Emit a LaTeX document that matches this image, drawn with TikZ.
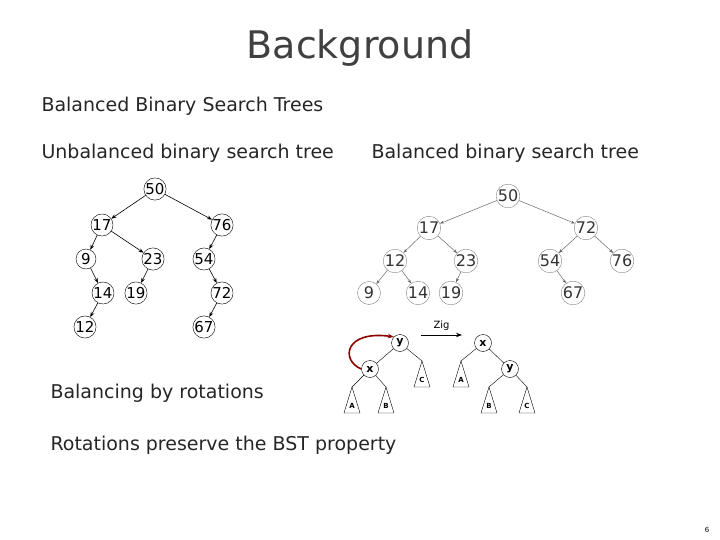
\documentclass[tikz,border=0pt]{standalone}
\usepackage{fontspec}
\setmainfont{DejaVu Sans}
\usetikzlibrary{arrows.meta,calc}
\tikzset{
  >=Stealth,
  nd/.style={circle,draw,inner sep=0pt,minimum size=20pt,font=\fontsize{15}{15}\selectfont},
  gnd/.style={circle,draw=gray,inner sep=0pt,minimum size=23pt,font=\fontsize{16}{16}\selectfont,text=black!80},
  ed/.style={->,>={Stealth[length=5pt]},line width=0.6pt},
  ged/.style={->,>={Stealth[length=4pt]},gray!80!black,line width=0.5pt},
  rn/.style={circle,draw,inner sep=0pt,minimum size=17pt,font=\bfseries\fontsize{11}{11}\selectfont},
  txt/.style={anchor=west,font=\fontsize{19}{19}\selectfont,text=black!85}
}
\newcommand{\subtree}[3]{% apex, name, label
  \draw (#1) -- ++(-8,26) -- ++(16,0) -- cycle;
  \node[font=\bfseries\fontsize{7}{7}\selectfont] (#2) at ($(#1)+(0,19)$) {#3};
}
\begin{document}
\begin{tikzpicture}[x=1pt,y=-1pt]
    \useasboundingbox (0,0) rectangle (720,540);
    % Titles
    \node[font=\fontsize{38}{38}\selectfont,text=black!75] (title) at (360,48) {Background};
    \node[txt] (t1) at (38,106) {Balanced Binary Search Trees};
    \node[txt] (t2) at (38,153) {Unbalanced binary search tree};
    \node[txt] (t3) at (368,153) {Balanced binary search tree};
    \node[txt] (t4) at (47,393) {Balancing by rotations};
    \node[txt] (t5) at (47,445) {Rotations preserve the BST property};
    \node[font=\fontsize{7}{7}\selectfont] (pg) at (707,530) {6};

    % Unbalanced tree
    \node[nd] (u50) at (155,189) {50};
    \node[nd] (u17) at (102,225) {17};
    \node[nd] (u76) at (222,225) {76};
    \node[nd] (u9) at (86,259) {9};
    \node[nd] (u23) at (153,259) {23};
    \node[nd] (u54) at (204,259) {54};
    \node[nd] (u14) at (103,293) {14};
    \node[nd] (u19) at (136,293) {19};
    \node[nd] (u72) at (222,293) {72};
    \node[nd] (u12) at (85,327) {12};
    \node[nd] (u67) at (204,327) {67};
    \foreach \a/\b in {u50/u17,u50/u76,u17/u9,u17/u23,u76/u54,u9/u14,u23/u19,u54/u72,u14/u12,u72/u67}
        \draw[ed] (\a) -- (\b);

    % Balanced tree
    \node[gnd] (b50) at (508,196) {50};
    \node[gnd] (b17) at (429,228) {17};
    \node[gnd] (b72) at (586,228) {72};
    \node[gnd] (b12) at (395,261) {12};
    \node[gnd] (b23) at (466,261) {23};
    \node[gnd] (b54) at (550,261) {54};
    \node[gnd] (b76) at (622,261) {76};
    \node[gnd] (b9) at (369,293) {9};
    \node[gnd] (b14) at (418,293) {14};
    \node[gnd] (b19) at (451,293) {19};
    \node[gnd] (b67) at (573,293) {67};
    \foreach \a/\b in {b50/b17,b50/b72,b17/b12,b17/b23,b72/b54,b72/b76,b12/b9,b12/b14,b23/b19,b54/b67}
        \draw[ged] (\a) -- (\b);

    % Rotation, left
    \node[rn] (ly) at (400,343) {y};
    \node[rn] (lx) at (370,369) {x};
    \coordinate (la) at (352,387);
    \coordinate (lb) at (386,387);
    \coordinate (lc) at (422,361);
    \subtree{la}{lA}{A}
    \subtree{lb}{lB}{B}
    \subtree{lc}{lC}{C}
    \draw (ly) -- (lx);
    \draw (ly) -- (lc);
    \draw (lx) -- (la);
    \draw (lx) -- (lb);
    \draw[->,>={Stealth[length=6pt]},red!55!black,line width=1.6pt] (lx.west) .. controls (340,360) and (345,330) .. (ly.north west);

    % Zig
    \coordinate (z1) at (421,335);
    \coordinate (z2) at (462,335);
    \draw[->,>={Stealth[length=6pt]},line width=1pt] (z1) -- (z2) node[midway,above=1pt,font=\fontsize{10}{10}\selectfont] (zig) {Zig};

    % Rotation, right
    \node[rn] (rx) at (483,343) {x};
    \node[rn] (ry) at (510,369) {y};
    \coordinate (ra) at (461,361);
    \coordinate (rb) at (489,387);
    \coordinate (rc) at (527,387);
    \subtree{ra}{rA}{A}
    \subtree{rb}{rB}{B}
    \subtree{rc}{rC}{C}
    \draw (rx) -- (ry);
    \draw (rx) -- (ra);
    \draw (ry) -- (rb);
    \draw (ry) -- (rc);
\end{tikzpicture}
\end{document}
